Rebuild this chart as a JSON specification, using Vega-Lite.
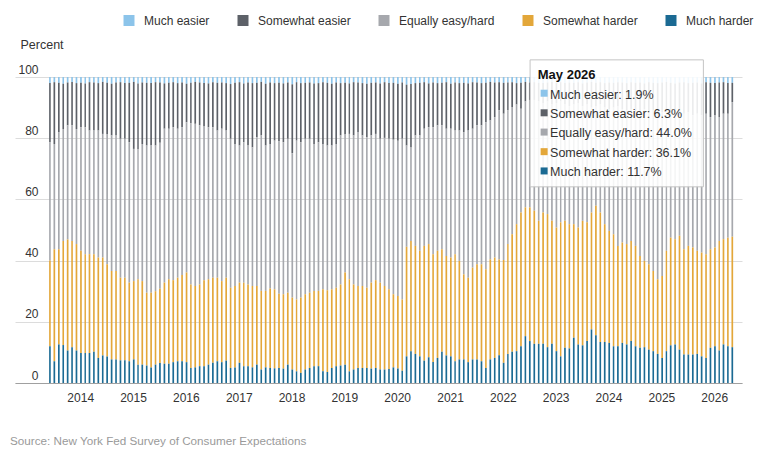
{
  "$schema": "https://vega.github.io/schema/vega-lite/v6.json",
  "width": 727,
  "height": 306,
  "autosize": "none",
  "padding": {"left": 15, "top": 77, "right": 18, "bottom": 66},
  "background": "white",
  "config": {"font": "Liberation Sans", "view": {"stroke": null}},
  "title": {
    "text": "Source: New York Fed Survey of Consumer Expectations",
    "orient": "bottom", "anchor": "start", "frame": "group",
    "fontSize": 11.7, "fontWeight": "normal", "color": "#9a9a9a",
    "baseline": "top", "offset": 33, "dx": -5
  },
  "datasets": {
    "sce": [
      {"date":"2013-06","mh":12.0,"sh":28.0,"eq":38.7,"se":19.3,"me":2.0},
      {"date":"2013-07","mh":7.1,"sh":36.6,"eq":34.4,"se":20.2,"me":1.7},
      {"date":"2013-08","mh":12.6,"sh":31.1,"eq":38.3,"se":16.1,"me":1.9},
      {"date":"2013-09","mh":12.4,"sh":34.0,"eq":36.6,"se":14.8,"me":2.2},
      {"date":"2013-10","mh":10.6,"sh":36.3,"eq":37.3,"se":14.0,"me":1.8},
      {"date":"2013-11","mh":11.7,"sh":34.7,"eq":37.8,"se":14.2,"me":1.6},
      {"date":"2013-12","mh":10.6,"sh":34.8,"eq":37.6,"se":15.0,"me":2.0},
      {"date":"2014-01","mh":9.8,"sh":33.4,"eq":40.4,"se":14.5,"me":1.9},
      {"date":"2014-02","mh":9.8,"sh":32.3,"eq":41.5,"se":14.3,"me":2.1},
      {"date":"2014-03","mh":9.8,"sh":32.3,"eq":40.4,"se":15.8,"me":1.7},
      {"date":"2014-04","mh":10.2,"sh":31.9,"eq":40.4,"se":15.7,"me":1.8},
      {"date":"2014-05","mh":8.2,"sh":32.8,"eq":41.5,"se":15.5,"me":2.0},
      {"date":"2014-06","mh":9.0,"sh":32.0,"eq":40.4,"se":17.0,"me":1.6},
      {"date":"2014-07","mh":8.7,"sh":30.1,"eq":42.6,"se":16.7,"me":1.9},
      {"date":"2014-08","mh":7.7,"sh":28.9,"eq":44.3,"se":16.9,"me":2.2},
      {"date":"2014-09","mh":7.7,"sh":28.9,"eq":44.3,"se":17.3,"me":1.8},
      {"date":"2014-10","mh":7.4,"sh":27.0,"eq":45.4,"se":18.5,"me":1.7},
      {"date":"2014-11","mh":7.4,"sh":27.0,"eq":45.4,"se":18.2,"me":2.0},
      {"date":"2014-12","mh":7.1,"sh":25.7,"eq":45.9,"se":19.4,"me":1.9},
      {"date":"2015-01","mh":7.7,"sh":25.6,"eq":43.2,"se":21.9,"me":1.6},
      {"date":"2015-02","mh":6.0,"sh":27.9,"eq":42.6,"se":21.4,"me":2.1},
      {"date":"2015-03","mh":6.0,"sh":27.3,"eq":44.8,"se":20.1,"me":1.8},
      {"date":"2015-04","mh":5.7,"sh":23.8,"eq":48.1,"se":20.5,"me":1.9},
      {"date":"2015-05","mh":5.1,"sh":24.4,"eq":48.1,"se":20.4,"me":2.0},
      {"date":"2015-06","mh":6.0,"sh":24.0,"eq":47.6,"se":20.7,"me":1.7},
      {"date":"2015-07","mh":6.5,"sh":24.3,"eq":47.7,"se":19.7,"me":1.8},
      {"date":"2015-08","mh":6.3,"sh":26.5,"eq":50.3,"se":14.8,"me":2.1},
      {"date":"2015-09","mh":6.3,"sh":27.6,"eq":49.2,"se":15.0,"me":1.9},
      {"date":"2015-10","mh":6.8,"sh":26.8,"eq":50.0,"se":14.7,"me":1.7},
      {"date":"2015-11","mh":7.1,"sh":27.3,"eq":48.7,"se":14.9,"me":2.0},
      {"date":"2015-12","mh":7.1,"sh":28.2,"eq":48.3,"se":14.6,"me":1.8},
      {"date":"2016-01","mh":6.8,"sh":29.3,"eq":49.1,"se":12.6,"me":2.2},
      {"date":"2016-02","mh":4.9,"sh":27.3,"eq":52.7,"se":13.2,"me":1.9},
      {"date":"2016-03","mh":5.1,"sh":26.6,"eq":53.0,"se":13.7,"me":1.6},
      {"date":"2016-04","mh":5.5,"sh":26.7,"eq":52.0,"se":14.0,"me":1.8},
      {"date":"2016-05","mh":5.5,"sh":28.1,"eq":50.2,"se":14.2,"me":2.0},
      {"date":"2016-06","mh":6.0,"sh":27.9,"eq":49.7,"se":14.3,"me":2.1},
      {"date":"2016-07","mh":6.6,"sh":27.8,"eq":49.2,"se":14.7,"me":1.7},
      {"date":"2016-08","mh":7.1,"sh":27.3,"eq":48.1,"se":15.6,"me":1.9},
      {"date":"2016-09","mh":6.8,"sh":26.5,"eq":49.8,"se":15.1,"me":1.8},
      {"date":"2016-10","mh":7.3,"sh":27.1,"eq":48.1,"se":15.5,"me":2.0},
      {"date":"2016-11","mh":4.9,"sh":26.2,"eq":48.7,"se":17.9,"me":2.3},
      {"date":"2016-12","mh":5.1,"sh":26.6,"eq":46.4,"se":20.0,"me":1.9},
      {"date":"2017-01","mh":6.6,"sh":26.2,"eq":44.8,"se":20.7,"me":1.7},
      {"date":"2017-02","mh":5.5,"sh":27.3,"eq":45.9,"se":19.2,"me":2.1},
      {"date":"2017-03","mh":5.5,"sh":26.7,"eq":45.4,"se":20.6,"me":1.8},
      {"date":"2017-04","mh":5.1,"sh":26.6,"eq":45.3,"se":21.0,"me":2.0},
      {"date":"2017-05","mh":6.0,"sh":25.7,"eq":48.6,"se":17.8,"me":1.9},
      {"date":"2017-06","mh":4.4,"sh":25.7,"eq":50.8,"se":17.5,"me":1.6},
      {"date":"2017-07","mh":5.1,"sh":25.0,"eq":47.5,"se":20.2,"me":2.2},
      {"date":"2017-08","mh":4.9,"sh":26.0,"eq":47.2,"se":20.1,"me":1.8},
      {"date":"2017-09","mh":4.8,"sh":25.8,"eq":48.6,"se":18.8,"me":2.0},
      {"date":"2017-10","mh":4.9,"sh":24.3,"eq":49.8,"se":19.1,"me":1.9},
      {"date":"2017-11","mh":4.7,"sh":24.3,"eq":49.7,"se":19.2,"me":2.1},
      {"date":"2017-12","mh":6.0,"sh":23.5,"eq":50.3,"se":18.4,"me":1.8},
      {"date":"2018-01","mh":4.4,"sh":23.5,"eq":47.2,"se":22.5,"me":2.4},
      {"date":"2018-02","mh":3.8,"sh":23.5,"eq":51.9,"se":19.1,"me":1.7},
      {"date":"2018-03","mh":3.3,"sh":24.6,"eq":50.8,"se":19.3,"me":2.0},
      {"date":"2018-04","mh":4.4,"sh":24.6,"eq":50.8,"se":18.3,"me":1.9},
      {"date":"2018-05","mh":4.9,"sh":24.6,"eq":50.3,"se":18.4,"me":1.8},
      {"date":"2018-06","mh":5.5,"sh":24.6,"eq":48.0,"se":19.8,"me":2.1},
      {"date":"2018-07","mh":5.5,"sh":24.6,"eq":48.6,"se":19.3,"me":2.0},
      {"date":"2018-08","mh":3.8,"sh":26.8,"eq":47.5,"se":20.2,"me":1.7},
      {"date":"2018-09","mh":3.6,"sh":26.7,"eq":47.3,"se":20.5,"me":1.9},
      {"date":"2018-10","mh":4.9,"sh":25.7,"eq":47.0,"se":20.2,"me":2.2},
      {"date":"2018-11","mh":5.5,"sh":25.6,"eq":47.0,"se":20.1,"me":1.8},
      {"date":"2018-12","mh":5.7,"sh":26.5,"eq":48.7,"se":17.1,"me":2.0},
      {"date":"2019-01","mh":6.0,"sh":30.1,"eq":45.1,"se":16.9,"me":1.9},
      {"date":"2019-02","mh":3.8,"sh":30.1,"eq":47.5,"se":16.5,"me":2.1},
      {"date":"2019-03","mh":4.4,"sh":27.8,"eq":48.7,"se":17.4,"me":1.7},
      {"date":"2019-04","mh":4.9,"sh":26.8,"eq":50.3,"se":16.2,"me":1.8},
      {"date":"2019-05","mh":4.9,"sh":26.8,"eq":49.2,"se":17.1,"me":2.0},
      {"date":"2019-06","mh":4.9,"sh":26.2,"eq":49.2,"se":17.5,"me":2.2},
      {"date":"2019-07","mh":4.7,"sh":28.1,"eq":48.1,"se":17.2,"me":1.9},
      {"date":"2019-08","mh":4.9,"sh":28.7,"eq":47.8,"se":16.8,"me":1.8},
      {"date":"2019-09","mh":4.4,"sh":28.4,"eq":47.0,"se":18.1,"me":2.1},
      {"date":"2019-10","mh":4.4,"sh":27.3,"eq":48.4,"se":18.2,"me":1.7},
      {"date":"2019-11","mh":4.6,"sh":26.0,"eq":49.2,"se":18.2,"me":2.0},
      {"date":"2019-12","mh":5.1,"sh":23.9,"eq":50.5,"se":18.6,"me":1.9},
      {"date":"2020-01","mh":4.7,"sh":23.7,"eq":50.8,"se":18.6,"me":2.2},
      {"date":"2020-02","mh":4.0,"sh":23.3,"eq":52.5,"se":18.4,"me":1.8},
      {"date":"2020-03","mh":8.7,"sh":35.8,"eq":33.1,"se":19.9,"me":2.5},
      {"date":"2020-04","mh":10.4,"sh":36.0,"eq":30.6,"se":20.7,"me":2.3},
      {"date":"2020-05","mh":9.5,"sh":35.3,"eq":36.1,"se":17.1,"me":2.0},
      {"date":"2020-06","mh":8.7,"sh":34.5,"eq":37.7,"se":17.2,"me":1.9},
      {"date":"2020-07","mh":7.3,"sh":37.5,"eq":38.3,"se":15.2,"me":1.7},
      {"date":"2020-08","mh":8.4,"sh":37.0,"eq":38.2,"se":14.3,"me":2.1},
      {"date":"2020-09","mh":6.9,"sh":35.2,"eq":41.5,"se":14.6,"me":1.8},
      {"date":"2020-10","mh":8.2,"sh":35.0,"eq":41.0,"se":13.8,"me":2.0},
      {"date":"2020-11","mh":10.2,"sh":33.5,"eq":40.5,"se":13.9,"me":1.9},
      {"date":"2020-12","mh":9.0,"sh":32.5,"eq":41.6,"se":15.2,"me":1.7},
      {"date":"2021-01","mh":8.7,"sh":32.3,"eq":42.1,"se":14.7,"me":2.2},
      {"date":"2021-02","mh":7.1,"sh":35.0,"eq":40.4,"se":15.7,"me":1.8},
      {"date":"2021-03","mh":7.7,"sh":32.2,"eq":42.6,"se":15.5,"me":2.0},
      {"date":"2021-04","mh":7.7,"sh":27.8,"eq":46.5,"se":16.1,"me":1.9},
      {"date":"2021-05","mh":6.8,"sh":27.6,"eq":48.1,"se":15.4,"me":2.1},
      {"date":"2021-06","mh":7.7,"sh":30.0,"eq":45.4,"se":15.2,"me":1.7},
      {"date":"2021-07","mh":7.7,"sh":31.1,"eq":45.4,"se":14.0,"me":1.8},
      {"date":"2021-08","mh":7.1,"sh":31.7,"eq":45.4,"se":13.8,"me":2.0},
      {"date":"2021-09","mh":4.9,"sh":32.3,"eq":48.0,"se":12.9,"me":1.9},
      {"date":"2021-10","mh":7.7,"sh":32.7,"eq":45.4,"se":12.6,"me":1.6},
      {"date":"2021-11","mh":8.2,"sh":32.8,"eq":45.9,"se":11.3,"me":1.8},
      {"date":"2021-12","mh":9.1,"sh":31.3,"eq":48.7,"se":9.2,"me":1.7},
      {"date":"2022-01","mh":6.6,"sh":33.6,"eq":47.8,"se":10.1,"me":1.9},
      {"date":"2022-02","mh":9.5,"sh":35.9,"eq":43.7,"se":9.1,"me":1.8},
      {"date":"2022-03","mh":10.2,"sh":38.4,"eq":41.6,"se":8.1,"me":1.7},
      {"date":"2022-04","mh":10.4,"sh":41.5,"eq":39.1,"se":7.0,"me":2.0},
      {"date":"2022-05","mh":12.0,"sh":43.7,"eq":33.9,"se":8.5,"me":1.9},
      {"date":"2022-06","mh":15.3,"sh":42.1,"eq":34.6,"se":6.4,"me":1.6},
      {"date":"2022-07","mh":13.7,"sh":43.7,"eq":35.1,"se":5.7,"me":1.8},
      {"date":"2022-08","mh":12.8,"sh":43.5,"eq":36.2,"se":5.8,"me":1.7},
      {"date":"2022-09","mh":12.8,"sh":40.2,"eq":39.0,"se":6.1,"me":1.9},
      {"date":"2022-10","mh":12.8,"sh":42.9,"eq":35.8,"se":6.5,"me":2.0},
      {"date":"2022-11","mh":11.7,"sh":43.5,"eq":36.8,"se":6.2,"me":1.8},
      {"date":"2022-12","mh":12.8,"sh":40.2,"eq":38.0,"se":7.4,"me":1.6},
      {"date":"2023-01","mh":10.4,"sh":40.4,"eq":40.7,"se":6.6,"me":1.9},
      {"date":"2023-02","mh":8.7,"sh":43.8,"eq":39.5,"se":6.3,"me":1.7},
      {"date":"2023-03","mh":11.5,"sh":41.5,"eq":38.0,"se":7.0,"me":2.0},
      {"date":"2023-04","mh":11.3,"sh":40.6,"eq":38.6,"se":7.7,"me":1.8},
      {"date":"2023-05","mh":14.8,"sh":37.1,"eq":39.1,"se":7.1,"me":1.9},
      {"date":"2023-06","mh":12.6,"sh":38.2,"eq":40.7,"se":6.8,"me":1.7},
      {"date":"2023-07","mh":12.3,"sh":40.7,"eq":37.5,"se":7.4,"me":2.1},
      {"date":"2023-08","mh":13.7,"sh":38.8,"eq":38.5,"se":7.2,"me":1.8},
      {"date":"2023-09","mh":17.5,"sh":38.2,"eq":34.3,"se":8.4,"me":1.6},
      {"date":"2023-10","mh":15.6,"sh":42.3,"eq":32.6,"se":7.6,"me":1.9},
      {"date":"2023-11","mh":13.4,"sh":42.3,"eq":35.3,"se":7.3,"me":1.7},
      {"date":"2023-12","mh":13.4,"sh":38.5,"eq":38.1,"se":8.0,"me":2.0},
      {"date":"2024-01","mh":13.1,"sh":36.6,"eq":39.8,"se":8.7,"me":1.8},
      {"date":"2024-02","mh":12.0,"sh":36.6,"eq":41.4,"se":8.1,"me":1.9},
      {"date":"2024-03","mh":12.0,"sh":32.8,"eq":45.7,"se":7.8,"me":1.7},
      {"date":"2024-04","mh":13.1,"sh":32.8,"eq":43.6,"se":8.7,"me":1.8},
      {"date":"2024-05","mh":12.6,"sh":32.8,"eq":43.6,"se":9.0,"me":2.0},
      {"date":"2024-06","mh":13.7,"sh":32.7,"eq":43.1,"se":8.8,"me":1.7},
      {"date":"2024-07","mh":12.0,"sh":32.8,"eq":43.7,"se":9.6,"me":1.9},
      {"date":"2024-08","mh":11.5,"sh":30.0,"eq":47.5,"se":9.2,"me":1.8},
      {"date":"2024-09","mh":11.7,"sh":28.2,"eq":49.6,"se":8.4,"me":2.1},
      {"date":"2024-10","mh":10.9,"sh":27.9,"eq":49.7,"se":9.8,"me":1.7},
      {"date":"2024-11","mh":10.4,"sh":26.2,"eq":52.4,"se":9.1,"me":1.9},
      {"date":"2024-12","mh":9.5,"sh":24.4,"eq":54.1,"se":10.0,"me":2.0},
      {"date":"2025-01","mh":8.2,"sh":26.8,"eq":53.5,"se":9.7,"me":1.8},
      {"date":"2025-02","mh":10.4,"sh":32.8,"eq":45.8,"se":9.4,"me":1.6},
      {"date":"2025-03","mh":12.3,"sh":35.2,"eq":40.5,"se":10.1,"me":1.9},
      {"date":"2025-04","mh":12.6,"sh":34.4,"eq":41.5,"se":9.4,"me":2.1},
      {"date":"2025-05","mh":10.9,"sh":37.2,"eq":39.4,"se":10.7,"me":1.8},
      {"date":"2025-06","mh":9.3,"sh":34.4,"eq":44.3,"se":10.3,"me":1.7},
      {"date":"2025-07","mh":9.3,"sh":35.5,"eq":43.7,"se":9.5,"me":2.0},
      {"date":"2025-08","mh":9.3,"sh":35.0,"eq":43.2,"se":10.6,"me":1.9},
      {"date":"2025-09","mh":9.5,"sh":33.7,"eq":44.8,"se":10.2,"me":1.8},
      {"date":"2025-10","mh":8.7,"sh":33.9,"eq":44.9,"se":10.4,"me":2.1},
      {"date":"2025-11","mh":8.2,"sh":33.9,"eq":45.9,"se":10.3,"me":1.7},
      {"date":"2025-12","mh":11.5,"sh":32.2,"eq":43.2,"se":11.2,"me":1.9},
      {"date":"2026-01","mh":12.0,"sh":32.3,"eq":43.1,"se":10.6,"me":2.0},
      {"date":"2026-02","mh":10.6,"sh":35.8,"eq":40.5,"se":11.3,"me":1.8},
      {"date":"2026-03","mh":12.6,"sh":34.4,"eq":41.0,"se":10.3,"me":1.7},
      {"date":"2026-04","mh":12.0,"sh":35.5,"eq":40.5,"se":10.0,"me":2.0},
      {"date":"2026-05","mh":11.7,"sh":36.1,"eq":44.0,"se":6.3,"me":1.9}
    ]
  },
  "layer": [
    {
      "data": {"name": "sce"},
      "transform": [
        {"fold": ["me", "se", "eq", "sh", "mh"], "as": ["key", "pct"]},
        {"calculate": "indexof(['mh','sh','eq','se','me'], datum.key)", "as": "stackOrder"},
        {"calculate": "datum.key == 'mh' ? 'Much harder' : datum.key == 'sh' ? 'Somewhat harder' : datum.key == 'eq' ? 'Equally easy/hard' : datum.key == 'se' ? 'Somewhat easier' : 'Much easier'", "as": "category"}
      ],
      "mark": {"type": "bar", "width": {"band": 0.6}},
      "encoding": {
        "x": {
          "field": "date", "timeUnit": "utcyearmonth", "type": "temporal",
          "scale": {"type": "utc", "nice": false, "domain": [{"year": 2012, "month": 10, "date": 21, "utc": true}, {"year": 2026, "month": 7, "date": 26, "utc": true}]},
          "axis": {
            "title": null, "grid": false, "ticks": false, "tickSize": 0,
            "domainColor": "#a0a0a0", "labelColor": "#333", "labelFontSize": 12,
            "labelPadding": 9, "labelOffset": 2, "labelFlush": false, "labelOverlap": false,
            "tickCount": {"interval": "year", "step": 1},
            "labelExpr": "utcyear(datum.value) < 2014 ? '' : utcFormat(datum.value, '%Y')"
          }
        },
        "y": {
          "field": "pct", "type": "quantitative", "stack": "zero",
          "scale": {"domain": [0, 100], "nice": false},
          "axis": {
            "title": "Percent", "titleAngle": 0, "titleAlign": "left", "titleBaseline": "middle",
            "titleX": 5, "titleY": -33, "titleFontSize": 12.5, "titleFontWeight": "normal", "titleColor": "#333",
            "values": [0, 20, 40, 60, 80, 100], "grid": true, "gridColor": "#dcdcdc",
            "domain": false, "ticks": false, "tickSize": 0,
            "labelPadding": -23, "labelAlign": "right", "labelBaseline": "alphabetic", "labelOffset": -4,
            "labelFontSize": 12, "labelColor": "#333", "labelFlush": false
          }
        },
        "color": {
          "field": "category", "type": "nominal",
          "scale": {
            "domain": ["Much easier", "Somewhat easier", "Equally easy/hard", "Somewhat harder", "Much harder"],
            "range": ["#8cc4ea", "#5d6168", "#a6a8ad", "#e3a73a", "#1b6a93"]
          },
          "legend": {
            "orient": "none", "legendX": 108, "legendY": -62.5, "direction": "horizontal",
            "title": null, "symbolType": "square", "symbolSize": 121, "symbolStrokeWidth": 0,
            "labelFontSize": 12, "labelColor": "#333", "labelOffset": 9, "columnPadding": 27, "padding": 0
          }
        },
        "order": {"field": "stackOrder", "type": "quantitative"}
      }
    },
    {
      "data": {"values": [{}]},
      "mark": {"type": "rect", "fill": "white", "fillOpacity": 0.88, "stroke": "#c4c4c4", "strokeWidth": 1},
      "encoding": {
        "x": {"datum": {"year": 2022, "month": 7, "date": 22, "utc": true}, "type": "temporal"},
        "x2": {"datum": {"year": 2025, "month": 11, "date": 1, "utc": true}},
        "y": {"datum": 105.6, "type": "quantitative"},
        "y2": {"datum": 64.1}
      }
    },
    {
      "data": {"values": [{}]},
      "mark": {"type": "text", "text": "May 2026", "fontWeight": "bold", "fontSize": 13, "align": "left", "baseline": "middle", "color": "#111"},
      "encoding": {
        "x": {"datum": {"year": 2022, "month": 9, "date": 13, "utc": true}, "type": "temporal"},
        "y": {"datum": 100.7, "type": "quantitative"}
      }
    },
    {
      "data": {"values": [{}]},
      "mark": {"type": "text", "text": ["Much easier: 1.9%", "Somewhat easier: 6.3%", "Equally easy/hard: 44.0%", "Somewhat harder: 36.1%", "Much harder: 11.7%"], "fontSize": 12.5, "lineHeight": 19.3, "align": "left", "baseline": "top", "color": "#333"},
      "encoding": {
        "x": {"datum": {"year": 2022, "month": 12, "date": 7, "utc": true}, "type": "temporal"},
        "y": {"datum": 96.2, "type": "quantitative"}
      }
    },
    {
      "data": {"values": [{}]},
      "mark": {"type": "point", "shape": "square", "filled": true, "size": 49, "opacity": 1, "color": "#8cc4ea"},
      "encoding": {"x": {"datum": {"year": 2022, "month": 10, "date": 27, "utc": true}, "type": "temporal"}, "y": {"datum": 94.7, "type": "quantitative"}}
    },
    {
      "data": {"values": [{}]},
      "mark": {"type": "point", "shape": "square", "filled": true, "size": 49, "opacity": 1, "color": "#5d6168"},
      "encoding": {"x": {"datum": {"year": 2022, "month": 10, "date": 27, "utc": true}, "type": "temporal"}, "y": {"datum": 88.3, "type": "quantitative"}}
    },
    {
      "data": {"values": [{}]},
      "mark": {"type": "point", "shape": "square", "filled": true, "size": 49, "opacity": 1, "color": "#a6a8ad"},
      "encoding": {"x": {"datum": {"year": 2022, "month": 10, "date": 27, "utc": true}, "type": "temporal"}, "y": {"datum": 82.0, "type": "quantitative"}}
    },
    {
      "data": {"values": [{}]},
      "mark": {"type": "point", "shape": "square", "filled": true, "size": 49, "opacity": 1, "color": "#e3a73a"},
      "encoding": {"x": {"datum": {"year": 2022, "month": 10, "date": 27, "utc": true}, "type": "temporal"}, "y": {"datum": 75.6, "type": "quantitative"}}
    },
    {
      "data": {"values": [{}]},
      "mark": {"type": "point", "shape": "square", "filled": true, "size": 49, "opacity": 1, "color": "#1b6a93"},
      "encoding": {"x": {"datum": {"year": 2022, "month": 10, "date": 27, "utc": true}, "type": "temporal"}, "y": {"datum": 69.3, "type": "quantitative"}}
    }
  ]
}
